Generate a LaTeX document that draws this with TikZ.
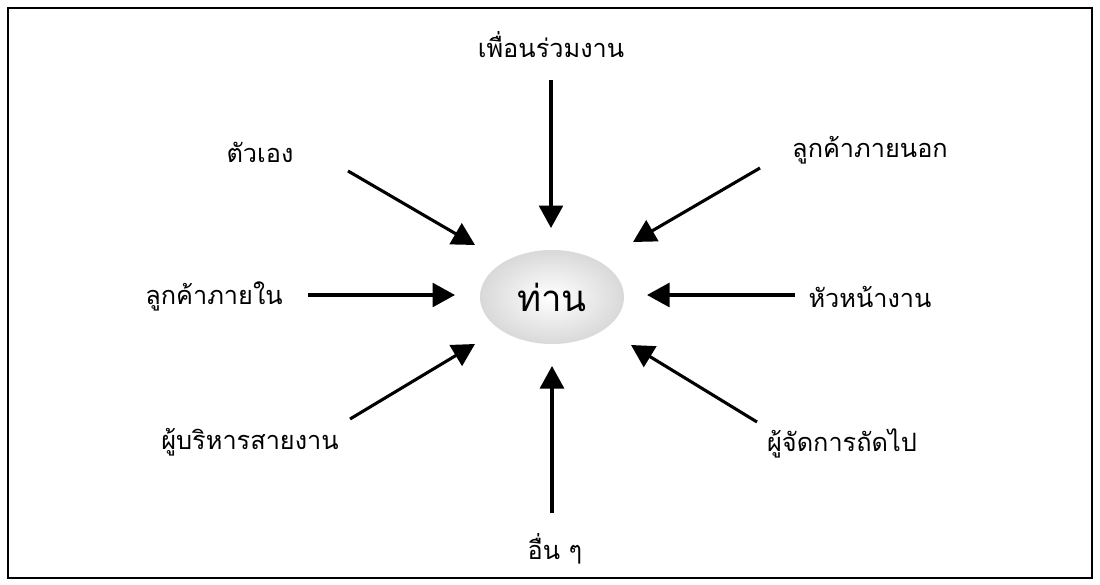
\documentclass[tikz,border=0pt]{standalone}
\usepackage{fontspec}
\newfontfamily\thaifont[Script=Thai]{Loma}
\usetikzlibrary{arrows.meta}

\begin{document}
\begin{tikzpicture}[x=0.025cm,y=-0.025cm,font=\thaifont\fontsize{18}{22}\selectfont,
  >={Triangle[length=16pt,width=17pt]},
  arr/.style={->,line width=2.2pt}]
\useasboundingbox (0,0) rectangle (1100,585);
\draw[line width=1.4pt] (8,8) rectangle (1092,578);
% centre
\shade[inner color=white,outer color=gray!30] (552,297) ellipse [x radius=72,y radius=47];
\node (you) at (552,297) {\fontsize{26}{30}\selectfont ท่าน};
% labels round the centre
\node (peer) at (551,45) {เพื่อนร่วมงาน};
\node (self) at (260,152) {ตัวเอง};
\node (extc) at (870,150) {ลูกค้าภายนอก};
\node (intc) at (214,296) {ลูกค้าภายใน};
\node (boss) at (870,297) {หัวหน้างาน};
\node (line) at (250,442) {ผู้บริหารสายงาน};
\node (next) at (842,443) {ผู้จัดการถัดไป};
\node (other) at (555,549) {อื่น ๆ};
% arrow ends
\coordinate (peerA) at (551,80);   \coordinate (peerB) at (551,228);
\coordinate (selfA) at (348,171);  \coordinate (selfB) at (475,245);
\coordinate (extcA) at (760,168);  \coordinate (extcB) at (633,242);
\coordinate (intcA) at (308,295);  \coordinate (intcB) at (455,295);
\coordinate (bossA) at (795,295);  \coordinate (bossB) at (647,295);
\coordinate (lineA) at (350,419);  \coordinate (lineB) at (475,344);
\coordinate (nextA) at (757,422);  \coordinate (nextB) at (631,345);
\coordinate (otherA) at (552,513); \coordinate (otherB) at (552,366);
\foreach \n in {peer,self,extc,intc,boss,line,next,other}
  \draw[arr] (\n A) -- (\n B);
\end{tikzpicture}
\end{document}
